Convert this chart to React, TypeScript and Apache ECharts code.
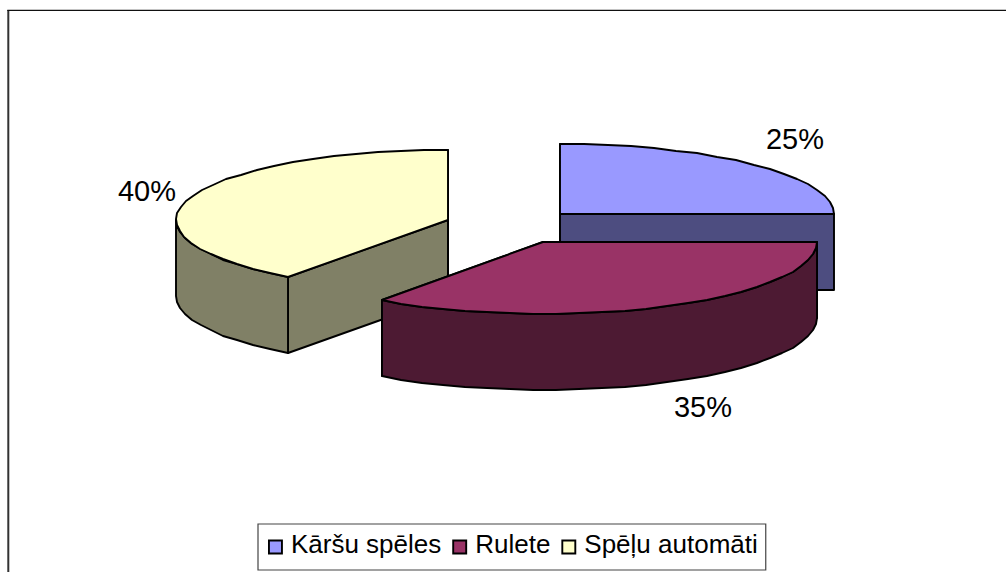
import React, { useEffect, useRef } from "react";
import * as echarts from "echarts";

const categories = ["Kāršu spēles", "Rulete", "Spēļu automāti"];
const shares = [25, 35, 40];
const topColors = ["#9999FF", "#993366", "#FFFFCC"];
const sideColors = ["#4D4D80", "#4D1A33", "#808066"];
const centers = [
  [560, 214],
  [543, 242],
  [448, 220],
];
const radii = [
  [274, 70],
  [274, 72],
  [272, 70],
];
const labelAt = [
  [795, 139],
  [703, 407],
  [147, 191],
];
const depth = 76;
const drawOrder = [2, 0, 1];

function App() {
  const ref = useRef<HTMLDivElement>(null);
  useEffect(() => {
    document.body.style.margin = "0";
    const chart = echarts.init(ref.current!, undefined, { renderer: "svg" });
    const total = shares.reduce((a, b) => a + b, 0);

    const renderSlice = (i: number) => (_p: any, api: any) => {
      const value = api.value(0) as number;
      const before = shares.slice(0, i).reduce((a, b) => a + b, 0);
      const a0 = (before / total) * 360;
      const a1 = ((before + value) / total) * 360;
      const [cx, cy] = centers[i];
      const [rx, ry] = radii[i];
      const pt = (deg: number, dy = 0) => {
        const t = (deg * Math.PI) / 180;
        return [Math.round(cx + rx * Math.sin(t)), Math.round(cy - ry * Math.cos(t) + dy)];
      };
      const arc = (from: number, to: number, dy = 0) => {
        const out: number[][] = [];
        const n = Math.max(1, Math.ceil((to - from) / 5));
        for (let k = 0; k <= n; k++) out.push(pt(from + ((to - from) * k) / n, dy));
        return out;
      };
      const face = (points: number[][], fill: string) => ({
        type: "polygon",
        shape: { points },
        style: { fill, stroke: "#000", lineWidth: 1.9, lineJoin: "round" },
      });
      const c = [cx, cy];
      const cd = [cx, cy + depth];
      const children: any[] = [];
      const edge = (deg: number) =>
        face([c, pt(deg), pt(deg, depth), cd], sideColors[i]);
      children.push(edge(a0), edge(a1));
      const w0 = Math.max(a0, 90);
      const w1 = Math.min(a1, 270);
      if (w1 > w0) {
        children.push(
          face([...arc(w0, w1), ...arc(w0, w1, depth).reverse()], sideColors[i])
        );
      }
      children.push(face([c, ...arc(a0, a1)], topColors[i]));
      children.push({
        type: "text",
        style: {
          x: labelAt[i][0],
          y: labelAt[i][1],
          text: `${value}%`,
          fill: "#000",
          font: '29px "Liberation Sans", Arial, sans-serif',
          align: "center",
          verticalAlign: "middle",
        },
      });
      return { type: "group", children };
    };

    chart.setOption({
      animation: false,
      backgroundColor: "#fff",
      graphic: [
        {
          type: "line",
          shape: { x1: 8.3, y1: 10, x2: 8.3, y2: 572 },
          style: { stroke: "#333", lineWidth: 2 },
        },
        {
          type: "line",
          shape: { x1: 7.3, y1: 10.3, x2: 1006, y2: 10.3 },
          style: { stroke: "#111", lineWidth: 1.2 },
        },
      ],
      legend: {
        left: 258,
        top: 524,
        orient: "horizontal",
        data: categories,
        icon: "rect",
        itemWidth: 13,
        itemHeight: 13,
        itemGap: 11,
        padding: [7, 8, 13, 10],
        borderColor: "#444",
        borderWidth: 1.2,
        backgroundColor: "#fff",
        selectedMode: false,
        itemStyle: { borderColor: "#000", borderWidth: 1.9 },
        formatter: (name: string) => `{a|${name}}`,
        textStyle: {
          rich: {
            a: {
              color: "#000",
              fontSize: 26,
              padding: [0, 0, 6, 4],
              fontFamily: '"Liberation Sans", Arial, sans-serif',
            },
          },
        },
      },
      series: drawOrder.map((i) => ({
        type: "custom",
        name: categories[i],
        coordinateSystem: "none",
        itemStyle: { color: topColors[i] },
        data: [[shares[i]]],
        renderItem: renderSlice(i),
      })),
    });
    return () => chart.dispose();
  }, []);
  return <div ref={ref} style={{ width: 1006, height: 572 }} />;
}

export default App;
